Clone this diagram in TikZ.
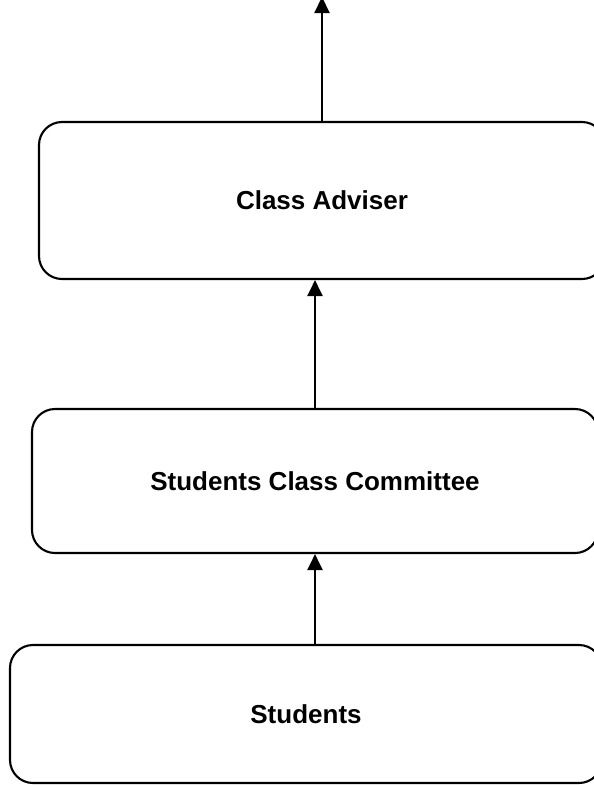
\documentclass[tikz,border=0pt]{standalone}
\usepackage{fontspec}
\setmainfont{Liberation Sans}
\usetikzlibrary{arrows.meta}
\begin{document}
\begin{tikzpicture}[x=1pt,y=-1pt,
  orgbox/.style={draw=black, line width=2.1pt, rounded corners=23pt, inner sep=0pt,
    font=\fontsize{26}{30}\selectfont\bfseries, align=center},
  uparrow/.style={draw=black, line width=2.2pt, -{Triangle[length=16pt,width=15pt]}}]
\useasboundingbox (0,0) rectangle (594,785);
\clip (0,0) rectangle (594,785);
\fill[white] (0,0) rectangle (594,785);
\node[orgbox, minimum width=566pt, minimum height=157pt] (adviser) at (322,200.5) {Class Adviser};
\node[orgbox, minimum width=566pt, minimum height=144pt] (committee) at (315,481) {Students Class Committee};
\node[orgbox, minimum width=592pt, minimum height=138pt] (students) at (306,714) {Students};
\coordinate (topend) at (322,-3);
\draw[uparrow] (adviser.north) -- (topend);
\draw[uparrow] (committee.north) -- (committee.north |- adviser.south);
\draw[uparrow] (committee.south |- students.north) -- (committee.south);
\end{tikzpicture}
\end{document}
